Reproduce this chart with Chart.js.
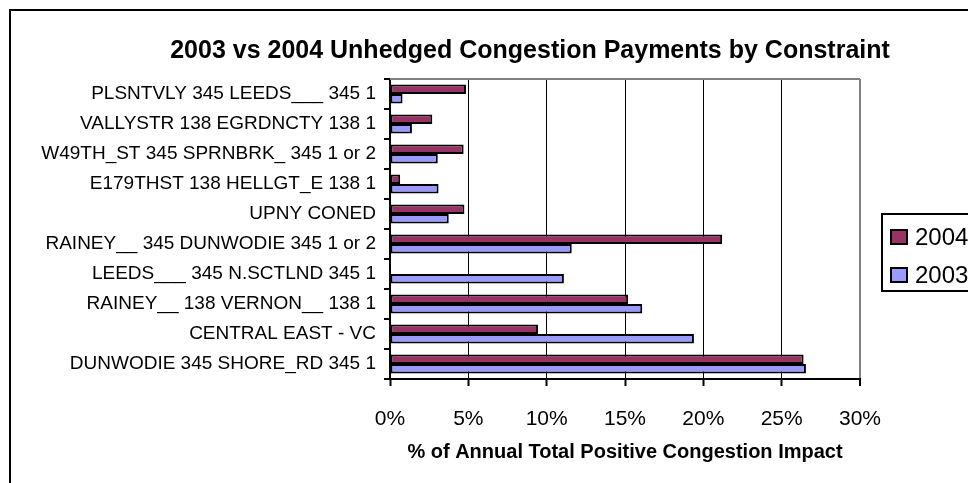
<!DOCTYPE html>
<html>
<head>
<meta charset="utf-8">
<title>2003 vs 2004 Unhedged Congestion Payments by Constraint</title>
<script src="https://cdn.jsdelivr.net/npm/chart.js@4.4.1/dist/chart.umd.min.js"></script>
<style>
  html, body { margin: 0; padding: 0; background: #fff; overflow: hidden; }
  #wrap { position: absolute; left: 0; top: 0; width: 968px; height: 483px; }
  #frame { position: absolute; left: 9px; top: 9px; width: 1200px; height: 800px;
           border-left: 2px solid #000; border-top: 2px solid #000; pointer-events: none; }
</style>
</head>
<body>
<div id="wrap"><canvas id="chart"></canvas></div>
<div id="frame"></div>
<script>
const constraints = [
  "PLSNTVLY 345 LEEDS___ 345 1",
  "VALLYSTR 138 EGRDNCTY 138 1",
  "W49TH_ST 345 SPRNBRK_ 345 1 or 2",
  "E179THST 138 HELLGT_E 138 1",
  "UPNY CONED",
  "RAINEY__ 345 DUNWODIE 345 1 or 2",
  "LEEDS___ 345 N.SCTLND 345 1",
  "RAINEY__ 138 VERNON__ 138 1",
  "CENTRAL EAST - VC",
  "DUNWODIE 345 SHORE_RD 345 1"
];
// % of annual total positive congestion impact
const share2004 = [4.85, 2.7, 4.7, 0.65, 4.75, 21.2, 0, 15.2, 9.45, 26.4];
const share2003 = [0.8, 1.4, 3.05, 3.1, 3.75, 11.6, 11.1, 16.1, 19.4, 26.55];
const seriesNames = ["2004", "2003"];
const seriesColors = ["#993366", "#9999ff"];
const xMin = 0, xMax = 30, xStep = 5;

const FONT = '"Liberation Sans", Arial, Helvetica, sans-serif';

// the Excel title is centred on the whole chart, not the plot
const titleSpan = {
  id: "titleSpan",
  afterLayout(chart) {
    const t = chart.titleBlock;
    t.left = chart.chartArea.left - 240;
    t.right = chart.chartArea.right + 50;
    t.width = t.right - t.left;
  }
};

// grey top edge of the plot area
const plotEdge = {
  id: "plotEdge",
  beforeDatasetsDraw(chart) {
    const { ctx, chartArea } = chart;
    ctx.save();
    ctx.strokeStyle = "#808080";
    ctx.lineWidth = 2;
    ctx.beginPath();
    ctx.moveTo(chartArea.left, chartArea.top);
    ctx.lineTo(chartArea.right, chartArea.top);
    ctx.stroke();
    ctx.restore();
  }
};

// boxed legend like the Excel one
const boxLegend = {
  id: "boxLegend",
  afterDraw(chart) {
    const { ctx, chartArea } = chart;
    const x = chartArea.right + 22, y = chartArea.top + 135;
    ctx.save();
    ctx.strokeStyle = "#000";
    ctx.lineWidth = 2;
    ctx.strokeRect(x, y, 95, 77);
    ctx.font = "24px " + FONT;
    ctx.textBaseline = "middle";
    chart.data.datasets.forEach((ds, i) => {
      const sy = y + 15 + i * 38;
      ctx.fillStyle = ds.backgroundColor;
      ctx.fillRect(x + 9, sy + 1, 16, 14);
      ctx.strokeRect(x + 9, sy + 1, 16, 14);
      ctx.fillStyle = "#000";
      ctx.fillText(ds.label, x + 33, sy + 9);
    });
    ctx.restore();
  }
};

new Chart(document.getElementById("chart"), {
  type: "bar",
  data: {
    labels: constraints,
    datasets: [
      { label: seriesNames[0], data: share2004, backgroundColor: seriesColors[0] },
      { label: seriesNames[1], data: share2003, backgroundColor: seriesColors[1] }
    ]
  },
  options: {
    indexAxis: "y",
    responsive: true,
    maintainAspectRatio: false,
    animation: false,
    layout: { padding: { left: 20, right: 108, top: 0, bottom: 19 } },
    datasets: {
      bar: {
        borderColor: "#000",
        borderWidth: 2,
        borderSkipped: false,
        categoryPercentage: 0.64,
        barPercentage: 1.0
      }
    },
    plugins: {
      legend: { display: false },
      tooltip: { enabled: false },
      title: {
        display: true,
        text: "2003 vs 2004 Unhedged Congestion Payments by Constraint",
        color: "#000",
        font: { family: FONT, size: 25, weight: "bold" },
        padding: { top: 36, bottom: 13 }
      }
    },
    scales: {
      x: {
        min: xMin,
        max: xMax,
        afterFit(scale) { scale.height = 85; },
        ticks: {
          stepSize: xStep,
          maxRotation: 0,
          color: "#000",
          padding: 21,
          font: { family: FONT, size: 21 },
          callback: v => v + "%"
        },
        grid: {
          color: c => (c.tick && c.tick.value === xMax ? "#808080" : "#000"),
          lineWidth: c => (c.tick && c.tick.value === xMax ? 2 : 1),
          tickColor: "#000",
          tickWidth: 2,
          tickLength: 7
        },
        border: { color: "#000", width: 2 },
        title: {
          display: true,
          text: "% of Annual Total Positive Congestion Impact",
          color: "#000",
          font: { family: FONT, size: 20, weight: "bold" },
          padding: { top: 8, bottom: 0 }
        }
      },
      y: {
        afterFit(scale) { scale.width = 370; },
        ticks: {
          autoSkip: false,
          color: "#000",
          padding: 8,
          font: { family: FONT, size: 19 }
        },
        grid: {
          drawOnChartArea: false,
          color: "#000",
          lineWidth: 2,
          tickLength: 6
        },
        border: { color: "#000", width: 2 }
      }
    }
  },
  plugins: [titleSpan, plotEdge, boxLegend]
});
</script>
</body>
</html>
